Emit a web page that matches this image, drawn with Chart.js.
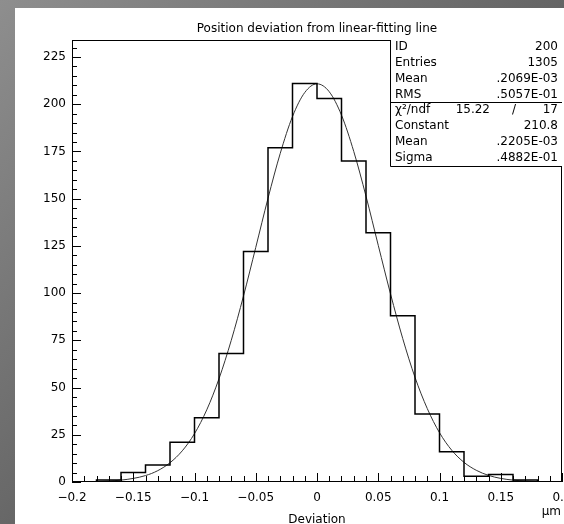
<!DOCTYPE html>
<html>
<head>
<meta charset="utf-8">
<script src="https://cdn.jsdelivr.net/npm/chart.js@4.4.1/dist/chart.umd.min.js"></script>
<style>
    html, body { margin: 0; padding: 0; width: 564px; height: 524px; overflow: hidden; }
    body { position: relative; background: linear-gradient(135deg, #8e8e8e, #3e3e3e); }
    #panel { position: absolute; left: 15px; top: 8px; right: 0; bottom: 0; background: #fff; }
    #histAWrapper { position: absolute; left: 0; top: 0; width: 600px; height: 524px; }
</style>
</head>
<body>
<div id="panel"></div>
<div id="histAWrapper"><canvas id="histA"></canvas></div>
<script>
// histogram: bin edges and contents (ID 200)
let binEdges = [-0.2, -0.18, -0.16, -0.14, -0.12, -0.1, -0.08, -0.06, -0.04, -0.02, 0,
    0.02, 0.04, 0.06, 0.08, 0.1, 0.12, 0.14, 0.16, 0.18, 0.2];
let binCounts = [0, 1, 5, 9, 21, 34, 68, 122, 177, 211, 203, 170, 132, 88, 36, 16, 3, 4, 1, 0];

// gaussian fit curve
let fitX = [-0.2, -0.19, -0.18, -0.17, -0.16, -0.15, -0.14, -0.13, -0.12, -0.11, -0.1,
    -0.09, -0.08, -0.07, -0.06, -0.05, -0.04, -0.03, -0.02, -0.01, 0,
    0.01, 0.02, 0.03, 0.04, 0.05, 0.06, 0.07, 0.08, 0.09, 0.1,
    0.11, 0.12, 0.13, 0.14, 0.15, 0.16, 0.17, 0.18, 0.19, 0.2];
let fitY = [0.05, 0.1, 0.2, 0.5, 1.0, 1.9, 3.4, 6.0, 10.2, 16.5, 25.6,
    38.2, 54.7, 75.0, 98.5, 124.2, 150.2, 174.0, 193.5, 206.2, 210.8,
    206.6, 194.2, 175.0, 151.3, 125.3, 99.6, 75.9, 55.4, 38.9, 26.1,
    16.8, 10.4, 6.2, 3.5, 1.9, 1.0, 0.5, 0.2, 0.1, 0.05];

let xTicks = [-0.2, -0.15, -0.1, -0.05, 0, 0.05, 0.1, 0.15, 0.2];
let yTicks = [0, 25, 50, 75, 100, 125, 150, 175, 200, 225];

let chartTitle = 'Position deviation from linear-fitting line';
let xTitle = 'Deviation';
let xUnit = 'μm';
let statsHist = [['ID', '200'], ['Entries', '1305'], ['Mean', '.2069E-03'], ['RMS', '.5057E-01']];
let statsChi = ['χ²/ndf', '15.22', '/', '17'];
let statsFit = [['Constant', '210.8'], ['Mean', '.2205E-03'], ['Sigma', '.4882E-01']];

const FONT = '12px "DejaVu Sans"';

function fmtTick(v) {
    let s = String(Math.round(v * 100) / 100);
    return s.replace('-', '\u2212');
}

// frame, inward ticks, title and stats box (PAW look)
let pawPlugin = {
    id: 'paw',
    afterDatasetsDraw(chart) {
        let ctx = chart.ctx;
        let a = chart.chartArea;
        let xs = chart.scales.x;
        let ys = chart.scales.y;
        ctx.save();
        ctx.strokeStyle = '#000';
        ctx.lineWidth = 1;

        ctx.strokeRect(a.left + 0.5, a.top + 0.5, a.right - a.left - 1, a.bottom - a.top - 1);

        ctx.beginPath();
        for (let i = -20; i <= 20; i++) {
            let px = Math.round(xs.getPixelForValue(i / 100)) + 0.5;
            let len = (i % 5 === 0) ? 9 : 6;
            ctx.moveTo(px, a.bottom);
            ctx.lineTo(px, a.bottom - len);
        }
        for (let v = 0; v <= 230; v += 5) {
            let py = Math.round(ys.getPixelForValue(v)) + 0.5;
            let len = (v % 25 === 0) ? 9 : 5;
            ctx.moveTo(a.left, py);
            ctx.lineTo(a.left + len, py);
        }
        ctx.stroke();

        ctx.fillStyle = '#000';
        ctx.font = FONT;
        ctx.textBaseline = 'middle';
        ctx.textAlign = 'center';
        ctx.fillText(chartTitle, (a.left + a.right) / 2, 29);
        ctx.fillText(xTitle, (a.left + a.right) / 2, 520);
        ctx.textAlign = 'right';
        ctx.fillText(xUnit, a.right - 1, 512);

        // stats box
        let bl = a.right - 172, br = a.right;
        let rowH = 15.8;
        let y0 = a.top + 7;
        let yDiv = Math.round(y0 + 3.5 * rowH) + 0.5;
        let bBot = Math.round(y0 + 7.5 * rowH) + 0.5;
        ctx.fillStyle = '#fff';
        ctx.fillRect(bl, a.top, br - bl, bBot - a.top);
        ctx.beginPath();
        ctx.moveTo(bl + 0.5, a.top);
        ctx.lineTo(bl + 0.5, bBot);
        ctx.lineTo(br, bBot);
        ctx.moveTo(bl, yDiv);
        ctx.lineTo(br, yDiv);
        ctx.stroke();

        ctx.fillStyle = '#000';
        let tl = bl + 5, tr = br - 4;
        statsHist.forEach((row, i) => {
            let y = y0 + i * rowH;
            ctx.textAlign = 'left';
            ctx.fillText(row[0], tl, y);
            ctx.textAlign = 'right';
            ctx.fillText(row[1], tr, y);
        });
        let yc = y0 + 4 * rowH;
        ctx.textAlign = 'left';
        ctx.fillText(statsChi[0], tl, yc);
        ctx.textAlign = 'right';
        ctx.fillText(statsChi[1], tr - 68, yc);
        ctx.textAlign = 'center';
        ctx.fillText(statsChi[2], tr - 44, yc);
        ctx.textAlign = 'right';
        ctx.fillText(statsChi[3], tr, yc);
        statsFit.forEach((row, i) => {
            let y = y0 + (5 + i) * rowH;
            ctx.textAlign = 'left';
            ctx.fillText(row[0], tl, y);
            ctx.textAlign = 'right';
            ctx.fillText(row[1], tr, y);
        });
        ctx.restore();
    }
};

Chart.defaults.font.family = '"DejaVu Sans"';
Chart.defaults.font.size = 12;
Chart.defaults.color = '#000';

let histData = binEdges.map((e, i) => ({ x: e, y: binCounts[Math.min(i, binCounts.length - 1)] }));
let fitData = fitX.map((x, i) => ({ x: x, y: fitY[i] }));

new Chart(document.getElementById('histA'), {
    type: 'line',
    data: {
        datasets: [
            {
                label: 'histogram',
                data: histData,
                stepped: 'before',
                borderColor: '#000',
                borderWidth: 1.5,
                pointRadius: 0,
                fill: false
            },
            {
                label: 'fit',
                data: fitData,
                borderColor: '#333',
                borderWidth: 1,
                pointRadius: 0,
                cubicInterpolationMode: 'monotone',
                fill: false
            }
        ]
    },
    options: {
        responsive: true,
        maintainAspectRatio: false,
        animation: false,
        devicePixelRatio: 1,
        layout: { padding: { top: 40, right: 38, left: 0, bottom: 0 } },
        plugins: {
            legend: { display: false },
            tooltip: { enabled: false }
        },
        scales: {
            x: {
                type: 'linear',
                min: -0.2,
                max: 0.2,
                grid: { display: false, drawTicks: false },
                border: { display: false },
                afterBuildTicks: (s) => { s.ticks = xTicks.map(v => ({ value: v })); },
                afterFit: (s) => { s.height = 42; },
                ticks: {
                    padding: 9,
                    maxRotation: 0,
                    autoSkip: false,
                    callback: (v) => fmtTick(v)
                }
            },
            y: {
                min: 0,
                max: 234,
                grid: { display: false, drawTicks: false },
                border: { display: false },
                afterBuildTicks: (s) => { s.ticks = yTicks.map(v => ({ value: v })); },
                afterFit: (s) => { s.width = 72; },
                ticks: {
                    padding: 6,
                    autoSkip: false
                }
            }
        }
    },
    plugins: [pawPlugin]
});
</script>
</body>
</html>
